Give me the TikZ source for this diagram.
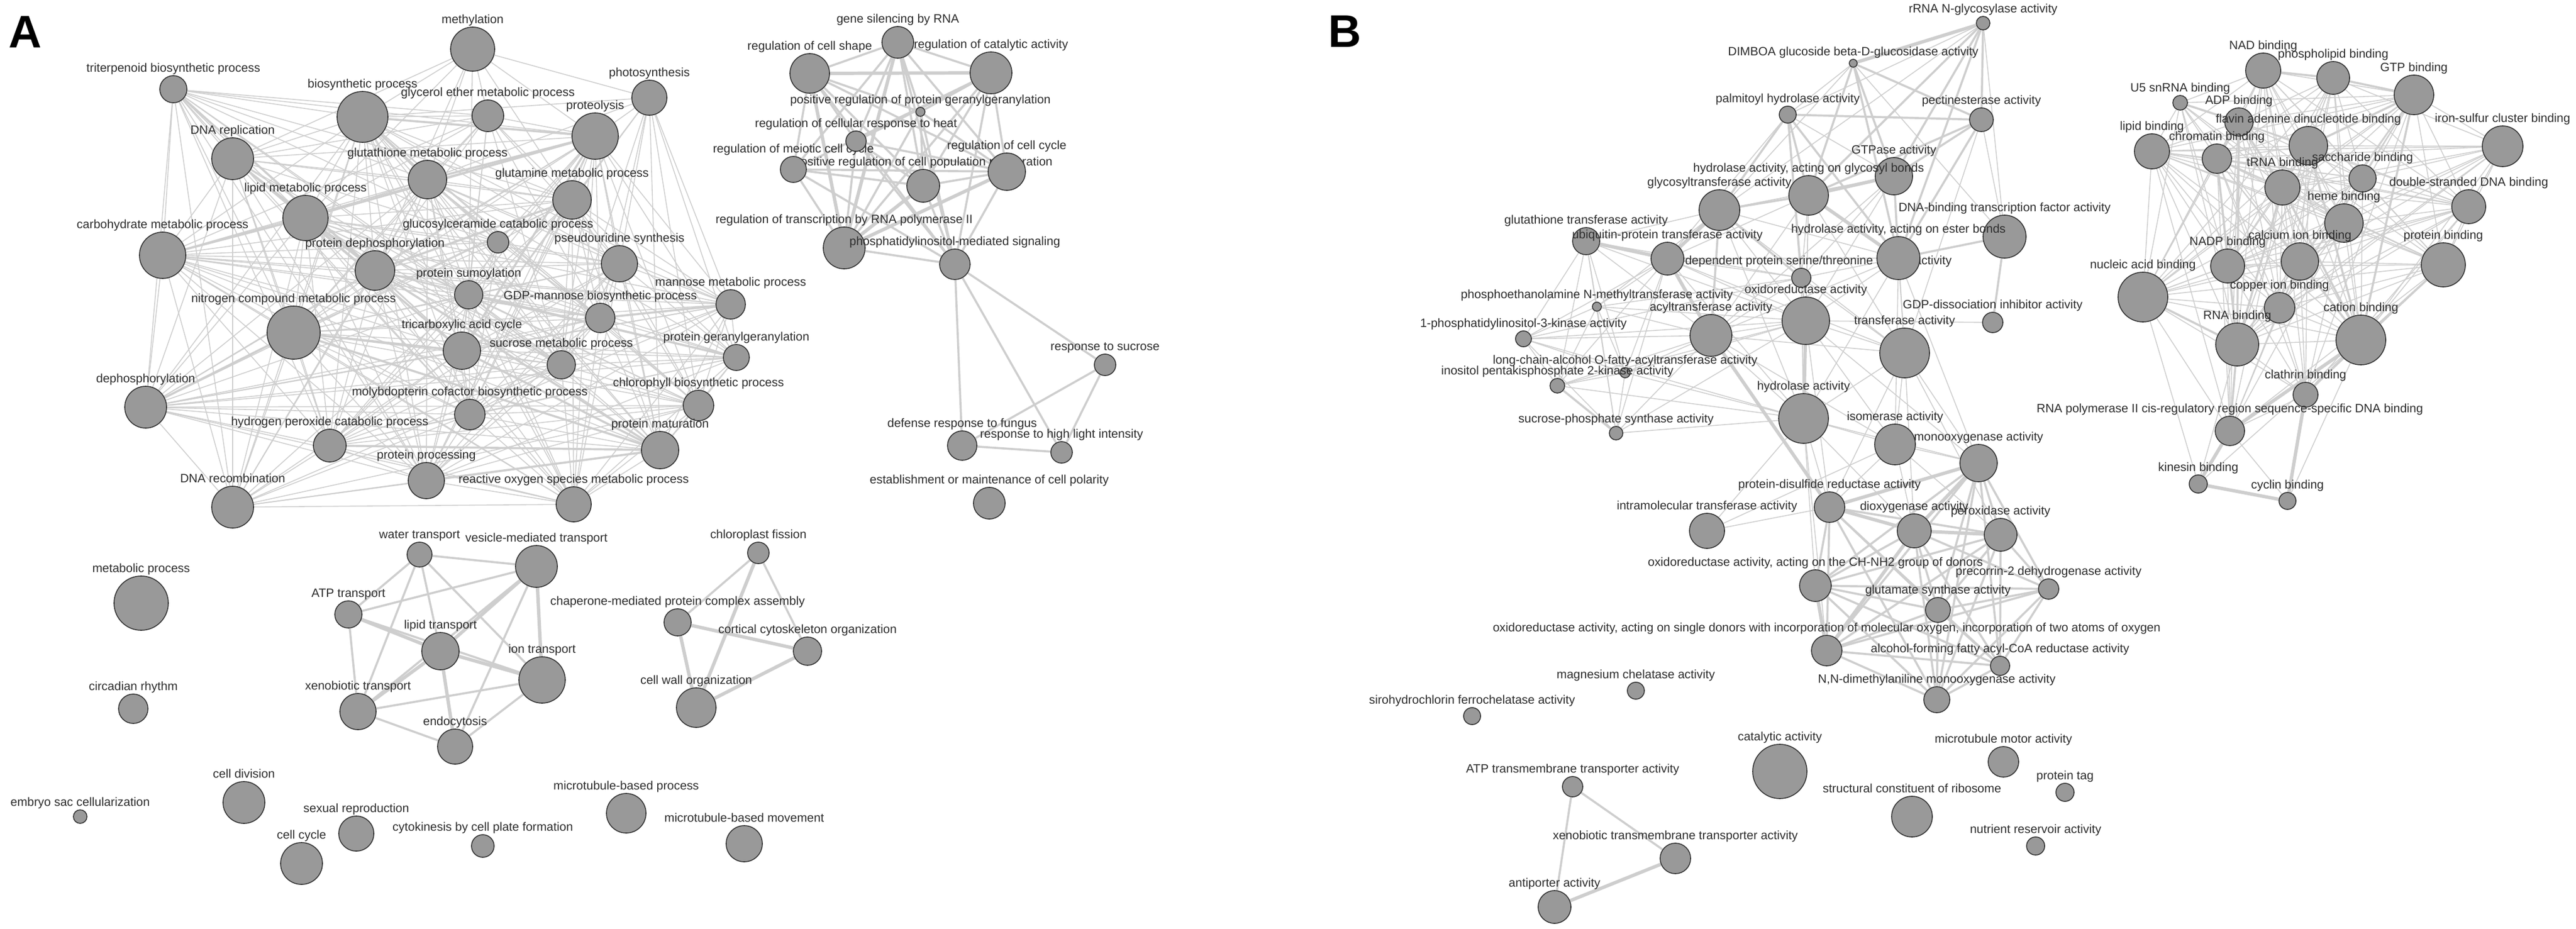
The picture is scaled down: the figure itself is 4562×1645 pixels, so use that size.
\documentclass[tikz,border=0pt]{standalone}
\usepackage{fontspec}
\setmainfont{Liberation Sans}
\usepackage{tikz}
\usetikzlibrary{backgrounds}
\usepackage{xcolor}
\definecolor{nodeFill}{RGB}{153, 153, 153}
\definecolor{nodeLine}{RGB}{50, 50, 50}
\definecolor{edgeGray}{RGB}{206, 206, 206}
\definecolor{labelGray}{RGB}{45, 45, 45}

\begin{document}
\begin{tikzpicture}[
    x=0.01cm, y=-0.01cm,
    term/.style={circle, draw=nodeLine, fill=nodeFill, line width=0.45pt, inner sep=0pt, minimum size=0.02cm*#1},
    lbl/.style={font=\fontsize{6.1}{7.3}\selectfont, text=labelGray, inner sep=0pt, text depth=1.3pt},
    panel/.style={font=\fontsize{23}{26}\selectfont\bfseries, inner sep=0pt},
    med/.style={line width=1.05pt},
    thk/.style={line width=1.7pt},
]
\useasboundingbox (0,0) rectangle (4562,1645);
\node[panel, anchor=base west] (labA) at (15,84) {A};
\node[panel, anchor=base west] (labB) at (2352,83) {B};
\node[term=24, label={[lbl]above:triterpenoid biosynthetic process}] (T) at (307,158) {};
\node[term=45, label={[lbl]above:biosynthetic process}] (BIO) at (642,207) {};
\node[term=39, label={[lbl]above:methylation}] (METH) at (837,87) {};
\node[term=28, label={[lbl]above:glycerol ether metabolic process}] (GLY) at (864,205) {};
\node[term=31, label={[lbl]above:photosynthesis}] (PHOTO) at (1150,173) {};
\node[term=41, label={[lbl]above:proteolysis}] (PROT) at (1054,241) {};
\node[term=37, label={[lbl]above:DNA replication}] (DREP) at (412,281) {};
\node[term=34, label={[lbl]above:glutathione metabolic process}] (GSH) at (757,318) {};
\node[term=34, label={[lbl]above:glutamine metabolic process}] (GLN) at (1013,354) {};
\node[term=40, label={[lbl]above:lipid metabolic process}] (LIP) at (541,386) {};
\node[term=19, label={[lbl]above:glucosylceramide catabolic process}] (GLC) at (882,429) {};
\node[term=41, label={[lbl]above:carbohydrate metabolic process}] (CARB) at (288,452) {};
\node[term=32, label={[lbl]above:pseudouridine synthesis}] (PSU) at (1097,467) {};
\node[term=35, label={[lbl]above:protein dephosphorylation}] (PDEP) at (664,479) {};
\node[term=25, label={[lbl]above:protein sumoylation}] (SUMO) at (830,522) {};
\node[term=26, label={[lbl]above:mannose metabolic process}] (MAN) at (1294,539) {};
\node[term=26, label={[lbl]above:GDP-mannose biosynthetic process}] (GDP) at (1063,563) {};
\node[term=47, label={[lbl]above:nitrogen compound metabolic process}] (NIT) at (520,589) {};
\node[term=33, label={[lbl]above:tricarboxylic acid cycle}] (TCA) at (818,621) {};
\node[term=23, label={[lbl]above:protein geranylgeranylation}] (GER) at (1304,633) {};
\node[term=25, label={[lbl]above:sucrose metabolic process}] (SUC) at (994,646) {};
\node[term=27, label={[lbl]above:chlorophyll biosynthetic process}] (CHL) at (1237,718) {};
\node[term=37, label={[lbl]above:dephosphorylation}] (DEP) at (258,721) {};
\node[term=27, label={[lbl]above:molybdopterin cofactor biosynthetic process}] (MOCO) at (832,734) {};
\node[term=29, label={[lbl]above:hydrogen peroxide catabolic process}] (H2O2) at (584,789) {};
\node[term=33, label={[lbl]above:protein maturation}] (PMAT) at (1169,797) {};
\node[term=32, label={[lbl]above:protein processing}] (PPROC) at (755,851) {};
\node[term=31, label={[lbl]above:reactive oxygen species metabolic process}] (ROS) at (1016,893) {};
\node[term=37, label={[lbl]above:DNA recombination}] (DREC) at (412,898) {};
\node[term=28, label={[lbl]above:gene silencing by RNA}] (GSIL) at (1590,75) {};
\node[term=35, label={[lbl]above:regulation of cell shape}] (RCS) at (1434,130) {};
\node[term=37, label={[lbl]above:regulation of catalytic activity}] (RCAT) at (1755,129) {};
\node[term=8, label={[lbl]above:positive regulation of protein geranylgeranylation}] (PRGG) at (1630,198) {};
\node[term=29, label={[lbl]above:positive regulation of cell population proliferation}] (PRCP) at (1635,329) {};
\node[term=23, label={[lbl]above:regulation of meiotic cell cycle}] (RMEI) at (1405,300) {};
\node[term=18, label={[lbl]above:regulation of cellular response to heat}] (RHEAT) at (1516,250) {};
\node[term=33, label={[lbl]above:regulation of cell cycle}] (RCC) at (1783,304) {};
\node[term=37, label={[lbl]above:regulation of transcription by RNA polymerase II}] (RTX) at (1495,439) {};
\node[term=27, label={[lbl]above:phosphatidylinositol-mediated signaling}] (PIS) at (1691,468) {};
\node[term=19, label={[lbl]above:response to sucrose}] (RSUC) at (1957,646) {};
\node[term=26, label={[lbl]above:defense response to fungus}] (DRF) at (1704,789) {};
\node[term=19, label={[lbl]above:response to high light intensity}] (RHL) at (1880,801) {};
\node[term=28, label={[lbl]above:establishment or maintenance of cell polarity}] (ECP) at (1752,891) {};
\node[term=22, label={[lbl]above:water transport}] (WAT) at (743,982) {};
\node[term=37, label={[lbl]above:vesicle-mediated transport}] (VES) at (950,1003) {};
\node[term=24, label={[lbl]above:ATP transport}] (ATP) at (617,1088) {};
\node[term=33, label={[lbl]above:lipid transport}] (LTR) at (780,1153) {};
\node[term=41, label={[lbl]above:ion transport}] (ION) at (960,1204) {};
\node[term=32, label={[lbl]above:xenobiotic transport}] (XEN) at (634,1260) {};
\node[term=31, label={[lbl]above:endocytosis}] (ENDO) at (806,1322) {};
\node[term=19, label={[lbl]above:chloroplast fission}] (CHF) at (1343,979) {};
\node[term=24, label={[lbl]above:chaperone-mediated protein complex assembly}] (CHAP) at (1200,1102) {};
\node[term=25, label={[lbl]above:cortical cytoskeleton organization}] (CCO) at (1430,1153) {};
\node[term=35, label={[lbl]above:cell wall organization}] (CWO) at (1233,1253) {};
\node[term=48, label={[lbl]above:metabolic process}] (MET) at (250,1068) {};
\node[term=26, label={[lbl]above:circadian rhythm}] (CIRC) at (236,1255) {};
\node[term=12, label={[lbl]above:embryo sac cellularization}] (EMB) at (142,1446) {};
\node[term=37, label={[lbl]above:cell division}] (CDIV) at (432,1421) {};
\node[term=31, label={[lbl]above:sexual reproduction}] (SEX) at (631,1476) {};
\node[term=37, label={[lbl]above:cell cycle}] (CCYC) at (534,1529) {};
\node[term=20, label={[lbl]above:cytokinesis by cell plate formation}] (CYTK) at (855,1498) {};
\node[term=35, label={[lbl]above:microtubule-based process}] (MTP) at (1109,1440) {};
\node[term=32, label={[lbl]above:microtubule-based movement}] (MTM) at (1318,1494) {};
\node[term=12, label={[lbl]above:rRNA N-glycosylase activity}] (RRNA) at (3512,41) {};
\node[term=7, label={[lbl]above:DIMBOA glucoside beta-D-glucosidase activity}] (DIMB) at (3282,112) {};
\node[term=15, label={[lbl]above:palmitoyl hydrolase activity}] (PALM) at (3166,203) {};
\node[term=21, label={[lbl]above:pectinesterase activity}] (PECT) at (3509,212) {};
\node[term=33, label={[lbl]above:GTPase activity}] (GTPA) at (3354,312) {};
\node[term=35, label={[lbl]above:{hydrolase activity, acting on glycosyl bonds}}] (HGLY) at (3203,346) {};
\node[term=36, label={[lbl]above:glycosyltransferase activity}] (GLYT) at (3045,372) {};
\node[term=38, label={[lbl]above:DNA-binding transcription factor activity}] (DBTF) at (3550,419) {};
\node[term=24, label={[lbl]above:glutathione transferase activity}] (GSTA) at (2809,427) {};
\node[term=17, label={[lbl]above:cyclin-dependent protein serine/threonine kinase activity}] (CDK) at (3190,492) {};
\node[term=29, label={[lbl]above:ubiquitin-protein transferase activity}] (UBQ) at (2953,458) {};
\node[term=38, label={[lbl]above:{hydrolase activity, acting on ester bonds}}] (HEST) at (3362,457) {};
\node[term=8, label={[lbl]above:phosphoethanolamine N-methyltransferase activity}] (PEMT) at (2828,543) {};
\node[term=42, label={[lbl]above:oxidoreductase activity}] (OXR) at (3198,568) {};
\node[term=18, label={[lbl]above:GDP-dissociation inhibitor activity}] (GDI) at (3529,571) {};
\node[term=37, label={[lbl]above:acyltransferase activity}] (ACYL) at (3030,594) {};
\node[term=14, label={[lbl]above:1-phosphatidylinositol-3-kinase activity}] (PI3K) at (2698,600) {};
\node[term=44, label={[lbl]above:transferase activity}] (TRAN) at (3373,625) {};
\node[term=9, label={[lbl]above:long-chain-alcohol O-fatty-acyltransferase activity}] (LCA) at (2878,660) {};
\node[term=13, label={[lbl]above:inositol pentakisphosphate 2-kinase activity}] (IPK) at (2758,683) {};
\node[term=44, label={[lbl]above:hydrolase activity}] (HYD) at (3194,741) {};
\node[term=12, label={[lbl]above:sucrose-phosphate synthase activity}] (SPS) at (2862,767) {};
\node[term=36, label={[lbl]above:isomerase activity}] (ISO) at (3356,787) {};
\node[term=33, label={[lbl]above:monooxygenase activity}] (MONO) at (3504,820) {};
\node[term=27, label={[lbl]above:protein-disulfide reductase activity}] (PDI) at (3240,898) {};
\node[term=31, label={[lbl]above:intramolecular transferase activity}] (INTRA) at (3023,940) {};
\node[term=30, label={[lbl]above:dioxygenase activity}] (DIOX) at (3390,940) {};
\node[term=29, label={[lbl]above:peroxidase activity}] (PEROX) at (3543,947) {};
\node[term=28, label={[lbl]above:{oxidoreductase activity, acting on the CH-NH2 group of donors}}] (OXCH) at (3215,1037) {};
\node[term=18, label={[lbl]above:precorrin-2 dehydrogenase activity}] (PREC) at (3628,1043) {};
\node[term=22, label={[lbl]above:glutamate synthase activity}] (GLUS) at (3432,1080) {};
\node[term=27, label={[lbl]above:{oxidoreductase activity, acting on single donors with incorporation of molecular oxygen, incorporation of two atoms of oxygen}}] (OXSD) at (3235,1152) {};
\node[term=17, label={[lbl]above:alcohol-forming fatty acyl-CoA reductase activity}] (ALC) at (3542,1179) {};
\node[term=23, label={[lbl]above:{N,N-dimethylaniline monooxygenase activity}}] (NNDM) at (3430,1239) {};
\node[term=15, label={[lbl]above:magnesium chelatase activity}] (MGCH) at (2897,1223) {};
\node[term=15, label={[lbl]above:sirohydrochlorin ferrochelatase activity}] (SIRO) at (2607,1268) {};
\node[term=48, label={[lbl]above:catalytic activity}] (CATA) at (3152,1366) {};
\node[term=36, label={[lbl]above:structural constituent of ribosome}] (SCR) at (3386,1446) {};
\node[term=27, label={[lbl]above:microtubule motor activity}] (MTMA) at (3548,1349) {};
\node[term=16, label={[lbl]above:protein tag}] (PTAG) at (3657,1403) {};
\node[term=16, label={[lbl]above:nutrient reservoir activity}] (NRA) at (3605,1498) {};
\node[term=18, label={[lbl]above:ATP transmembrane transporter activity}] (ATPT) at (2785,1393) {};
\node[term=27, label={[lbl]above:xenobiotic transmembrane transporter activity}] (XTT) at (2967,1520) {};
\node[term=29, label={[lbl]above:antiporter activity}] (ANTI) at (2753,1606) {};
\node[term=31, label={[lbl]above:NAD binding}] (NADB) at (4008,125) {};
\node[term=29, label={[lbl]above:phospholipid binding}] (PLB) at (4132,138) {};
\node[term=35, label={[lbl]above:GTP binding}] (GTPB) at (4275,168) {};
\node[term=13, label={[lbl]above:U5 snRNA binding}] (U5) at (3861,182) {};
\node[term=25, label={[lbl]above:ADP binding}] (ADP) at (3965,216) {};
\node[term=31, label={[lbl]above:lipid binding}] (LIPB) at (3811,268) {};
\node[term=26, label={[lbl]above:chromatin binding}] (CHROM) at (3926,281) {};
\node[term=34, label={[lbl]above:flavin adenine dinucleotide binding}] (FAD) at (4088,258) {};
\node[term=36, label={[lbl]above:iron-sulfur cluster binding}] (IRON) at (4432,259) {};
\node[term=31, label={[lbl]above:tRNA binding}] (TRNA) at (4042,332) {};
\node[term=24, label={[lbl]above:saccharide binding}] (SACB) at (4184,316) {};
\node[term=30, label={[lbl]above:double-stranded DNA binding}] (DSDNA) at (4372,366) {};
\node[term=34, label={[lbl]above:heme binding}] (HEME) at (4151,395) {};
\node[term=30, label={[lbl]above:NADP binding}] (NADP) at (3945,471) {};
\node[term=33, label={[lbl]above:calcium ion binding}] (CAIB) at (4073,463) {};
\node[term=39, label={[lbl]above:protein binding}] (PROB) at (4327,469) {};
\node[term=44, label={[lbl]above:nucleic acid binding}] (NUC) at (3795,526) {};
\node[term=27, label={[lbl]above:copper ion binding}] (CUB) at (4037,545) {};
\node[term=38, label={[lbl]above:RNA binding}] (RNAB) at (3962,610) {};
\node[term=44, label={[lbl]above:cation binding}] (CATB) at (4181,602) {};
\node[term=22, label={[lbl]above:clathrin binding}] (CLAT) at (4083,699) {};
\node[term=26, label={[lbl]above:RNA polymerase II cis-regulatory region sequence-specific DNA binding}] (RPOL) at (3949,763) {};
\node[term=16, label={[lbl]above:kinesin binding}] (KIN) at (3893,857) {};
\node[term=15, label={[lbl]above:cyclin binding}] (CYC) at (4051,887) {};
\begin{scope}[on background layer, every edge/.style={draw=edgeGray, line width=0.45pt}]
\fill[white] (0,0) rectangle (4562,1645);
\path (T) edge (BIO) edge (DREP) edge (GSH) edge (LIP) edge[med] (PDEP) edge (NIT) edge (GLN) edge (PROT) edge (SUMO) edge (TCA) edge (CARB) edge (DEP) edge (DREC) edge (GLC) edge (MOCO) edge (H2O2) edge (PPROC) edge (GLY) edge (SUC);
\path (BIO) edge (METH) edge (GLY) edge[med] (PROT) edge (DREP) edge[med] (GSH) edge (GLN) edge (LIP) edge (GLC) edge (CARB) edge (PSU) edge (PDEP) edge (SUMO) edge (NIT) edge (TCA) edge (SUC) edge (DEP) edge (MOCO) edge (H2O2) edge (PPROC) edge (ROS) edge (PMAT) edge (CHL) edge (GDP) edge (DREC) edge (MAN);
\path (METH) edge (GLY) edge (GSH) edge (PROT) edge (PHOTO) edge (DREP) edge (LIP) edge (PDEP) edge (SUMO) edge (GLN);
\path (GLY) edge (PROT) edge (GSH) edge (GLN) edge (DREP) edge (LIP) edge (PDEP) edge (NIT) edge (SUMO) edge (TCA) edge (PSU) edge (GDP) edge (SUC) edge (CARB);
\path (PHOTO) edge (PROT) edge (GLN) edge (PSU) edge (MAN) edge (GER) edge (CHL) edge (GDP) edge (GSH) edge (BIO) edge (TCA) edge (SUC) edge (PMAT);
\path (PROT) edge[med] (GSH) edge (GLN) edge (DREP) edge[med] (LIP) edge (PSU) edge (PDEP) edge (NIT) edge (SUMO) edge (GDP) edge[med] (TCA) edge (SUC) edge (MAN) edge (GER) edge (CHL) edge (MOCO) edge (PMAT) edge (CARB) edge (DEP) edge (H2O2) edge (GLC) edge (PPROC) edge (ROS);
\path (DREP) edge (GSH) edge (LIP) edge (CARB) edge (NIT) edge[med] (PDEP) edge (DEP) edge (DREC) edge (TCA) edge (SUMO) edge (GLN) edge (H2O2) edge (MOCO) edge (PPROC) edge (SUC) edge (GLC);
\path (GSH) edge (GLN) edge (LIP) edge (GLC) edge (PDEP) edge (SUMO) edge (NIT) edge (TCA) edge (SUC) edge (PSU) edge (GDP) edge (MAN) edge (CARB) edge (DEP) edge (MOCO) edge (H2O2) edge (PPROC) edge (ROS) edge (PMAT) edge (CHL) edge (GER) edge (DREC);
\path (GLN) edge (GLC) edge (PSU) edge[med] (PDEP) edge (SUMO) edge (MAN) edge (GDP) edge (TCA) edge (SUC) edge (GER) edge (CHL) edge (LIP) edge (NIT) edge (MOCO) edge (PMAT) edge (ROS) edge (PPROC) edge (H2O2) edge (DEP) edge (CARB);
\path (LIP) edge[med] (CARB) edge (PDEP) edge (NIT) edge (SUMO) edge[med] (TCA) edge (DEP) edge (DREC) edge (H2O2) edge (MOCO) edge (PPROC) edge (GLC) edge (PSU) edge (GDP) edge (SUC) edge (MAN) edge (GER) edge (CHL) edge (PMAT) edge (ROS);
\path (GLC) edge (PDEP) edge (SUMO) edge (TCA) edge (NIT) edge (GDP) edge (SUC) edge (PSU) edge (MOCO) edge (CARB);
\path (CARB) edge (PDEP) edge (NIT) edge (DEP) edge (DREC) edge (TCA) edge (SUMO) edge (H2O2) edge (MOCO) edge (PPROC) edge (SUC) edge (GDP) edge (PSU) edge (MAN) edge (ROS) edge (PMAT);
\path (PSU) edge (PDEP) edge (SUMO) edge (MAN) edge (GDP) edge (TCA) edge (SUC) edge (GER) edge (CHL) edge (NIT) edge (MOCO) edge (PMAT) edge (ROS) edge (PPROC) edge (H2O2);
\path (PDEP) edge (SUMO) edge (NIT) edge (TCA) edge (SUC) edge (GDP) edge (MAN) edge (GER) edge (CHL) edge (DEP) edge (MOCO) edge (H2O2) edge[med] (PMAT) edge (PPROC) edge (ROS) edge (DREC);
\path (SUMO) edge (NIT) edge (TCA) edge (GDP) edge (SUC) edge (MAN) edge[med] (GER) edge (CHL) edge (DEP) edge (MOCO) edge (H2O2) edge (PMAT) edge (PPROC) edge (ROS) edge (DREC);
\path (MAN) edge[med] (GDP) edge (GER) edge (CHL) edge (SUC) edge (TCA) edge (NIT) edge (PMAT) edge (MOCO) edge (ROS) edge (PPROC) edge (DEP);
\path (GDP) edge (TCA) edge (SUC) edge (GER) edge (CHL) edge (NIT) edge (MOCO) edge (PMAT) edge (PPROC) edge (ROS) edge (H2O2) edge (DEP);
\path (NIT) edge[med] (TCA) edge (SUC) edge (GER) edge (CHL) edge[med] (DEP) edge (MOCO) edge (H2O2) edge[med] (PMAT) edge (PPROC) edge (ROS) edge (DREC);
\path (TCA) edge (SUC) edge (GER) edge (CHL) edge (DEP) edge (MOCO) edge (H2O2) edge[med] (PMAT) edge (PPROC) edge (ROS) edge (DREC);
\path (GER) edge (SUC) edge (CHL) edge (MOCO) edge (PMAT) edge (ROS) edge (PPROC) edge (H2O2) edge (DEP);
\path (SUC) edge (CHL) edge (DEP) edge (MOCO) edge (H2O2) edge (PMAT) edge (PPROC) edge (ROS) edge (DREC);
\path (CHL) edge (DEP) edge (MOCO) edge (H2O2) edge (PMAT) edge (PPROC) edge (ROS) edge (DREC);
\path (DEP) edge (MOCO) edge (H2O2) edge (PMAT) edge (PPROC) edge (ROS) edge (DREC);
\path (MOCO) edge (H2O2) edge (PMAT) edge (PPROC) edge (ROS) edge (DREC);
\path (H2O2) edge[med] (PMAT) edge (PPROC) edge (ROS) edge (DREC);
\path (PMAT) edge[med] (PPROC) edge (ROS) edge (DREC);
\path (PPROC) edge (ROS) edge (DREC); \path (ROS) edge (DREC);
\path (RCS) edge[med] (GSIL) edge[thk] (RCAT) edge[med] (RMEI) edge[thk] (RTX) edge[med] (PRCP) edge[med] (RCC) edge[med] (PIS) edge[med] (RHEAT) edge[med] (PRGG);
\path (GSIL) edge[med] (RCAT) edge[thk] (RTX) edge[med] (PRCP) edge[med] (PIS) edge[med] (RMEI) edge[med] (RHEAT) edge[med] (RCC) edge[med] (PRGG);
\path (RCAT) edge[med] (RCC) edge[med] (PRCP) edge[med] (RTX) edge[med] (PIS) edge[med] (RMEI) edge[med] (RHEAT) edge[med] (PRGG);
\path (RMEI) edge[med] (RCC) edge[med] (PRCP) edge[med] (RTX) edge[med] (PIS);
\path (PRCP) edge[med] (RCC) edge[thk] (RTX) edge[med] (PIS); \path (RCC) edge[thk] (RTX) edge[med] (PIS); \path (RTX) edge[med] (PIS);
\path (RHEAT) edge[med] (RTX) edge[med] (RCC) edge[med] (PRCP) edge[med] (PIS);
\path (PRGG) edge[med] (RTX) edge[med] (PRCP) edge[med] (RCC) edge[med] (PIS);
\path (PIS) edge[med] (RSUC) edge[med] (DRF) edge[med] (RHL);
\path (RSUC) edge[med] (DRF) edge[med] (RHL); \path (DRF) edge[med] (RHL);
\path (WAT) edge[med] (VES) edge[med] (LTR) edge[med] (ION) edge[med] (ATP) edge[med] (XEN);
\path (VES) edge[thk] (LTR) edge[thk] (ION) edge[med] (ENDO) edge[med] (ATP) edge[med] (XEN);
\path (LTR) edge[thk] (ION) edge[thk] (ENDO) edge[thk] (XEN) edge[thk] (ATP);
\path (ION) edge[med] (XEN) edge[med] (ENDO) edge[med] (ATP); \path (ATP) edge[med] (XEN); \path (XEN) edge[med] (ENDO);
\path (CHF) edge[med] (CHAP) edge[thk] (CWO) edge[med] (CCO);
\path (CHAP) edge[thk] (CCO) edge[thk] (CWO); \path (CWO) edge[thk] (CCO);
\path (RRNA) edge[thk] (DIMB) edge[med] (PECT) edge (PALM) edge[med] (GTPA) edge[med] (HGLY) edge[med] (HEST) edge (DBTF) edge (GLYT);
\path (DIMB) edge (PALM) edge[med] (PECT) edge[med] (GTPA) edge[med] (HGLY) edge[med] (HEST) edge (GLYT) edge (DBTF);
\path (PALM) edge[med] (PECT) edge (GTPA) edge[med] (HGLY) edge[med] (GLYT) edge[med] (HEST) edge[med] (CDK) edge (OXR) edge (UBQ);
\path (PECT) edge[med] (GTPA) edge[med] (HGLY) edge[med] (HEST) edge (DBTF) edge (TRAN);
\path (GTPA) edge[thk] (HGLY) edge[med] (HEST) edge (GLYT) edge (TRAN) edge (CDK) edge (OXR) edge (ACYL);
\path (HGLY) edge[med] (GLYT) edge[thk] (HEST) edge (CDK) edge (OXR) edge (UBQ) edge (ACYL) edge (TRAN) edge (HYD);
\path (GLYT) edge[thk] (UBQ) edge[med] (CDK) edge[med] (ACYL) edge (OXR) edge (HEST) edge (GSTA) edge (PEMT) edge (TRAN) edge (HYD);
\path (DBTF) edge[med] (HEST) edge[med] (GDI);
\path (GSTA) edge[thk] (UBQ) edge (PI3K) edge (IPK) edge (SPS) edge (LCA) edge (ACYL) edge (PEMT) edge (CDK) edge (OXR);
\path (HEST) edge (CDK) edge (OXR) edge (TRAN) edge (HYD) edge (ISO) edge (ACYL) edge (UBQ) edge (MONO);
\path (UBQ) edge (CDK) edge[thk] (ACYL) edge (OXR) edge (PI3K) edge (IPK) edge (LCA) edge (SPS) edge (PEMT) edge (HYD) edge (TRAN);
\path (CDK) edge (OXR) edge (ACYL) edge (TRAN) edge (HYD) edge (PEMT) edge (PI3K);
\path (PEMT) edge (PI3K) edge (IPK) edge (LCA) edge (ACYL) edge (SPS) edge (OXR);
\path (OXR) edge (GDI) edge (ACYL) edge (TRAN) edge[thk] (HYD) edge (ISO) edge (PDI) edge (MONO) edge (PI3K) edge (IPK) edge (LCA) edge (SPS);
\path (ACYL) edge (PI3K) edge (TRAN) edge (HYD) edge (IPK) edge (LCA) edge (SPS) edge[thk] (PDI) edge (ISO);
\path (PI3K) edge (IPK) edge (LCA) edge (SPS) edge (HYD); \path (LCA) edge (IPK) edge (SPS) edge (HYD); \path (IPK) edge[med] (SPS) edge (HYD);
\path (TRAN) edge (HYD) edge (ISO) edge (MONO) edge (PDI) edge (DIOX) edge (PEROX);
\path (HYD) edge (SPS) edge (ISO) edge (PDI) edge (DIOX) edge (OXCH) edge (INTRA) edge (MONO) edge (OXSD);
\path (ISO) edge (MONO) edge (PDI) edge (DIOX) edge (PEROX) edge (INTRA);
\path (MONO) edge[thk] (PDI) edge[thk] (DIOX) edge[med] (PEROX) edge[med] (OXCH) edge[med] (GLUS) edge[med] (OXSD) edge[med] (ALC) edge[med] (NNDM) edge[med] (PREC);
\path (PDI) edge[thk] (DIOX) edge[med] (PEROX) edge[med] (OXCH) edge[med] (GLUS) edge[med] (OXSD) edge[med] (NNDM) edge[med] (ALC) edge (INTRA);
\path (DIOX) edge[thk] (PEROX) edge[med] (OXCH) edge[med] (PREC) edge[med] (GLUS) edge[thk] (OXSD) edge[med] (ALC) edge[med] (NNDM);
\path (PEROX) edge[med] (OXCH) edge[med] (PREC) edge[med] (GLUS) edge[med] (OXSD) edge[med] (ALC) edge[med] (NNDM);
\path (OXCH) edge[med] (PREC) edge[med] (GLUS) edge[thk] (OXSD) edge[med] (ALC) edge[med] (NNDM);
\path (PREC) edge[med] (GLUS) edge[med] (OXSD) edge[med] (ALC) edge[med] (NNDM);
\path (GLUS) edge[med] (OXSD) edge[med] (ALC) edge[med] (NNDM); \path (OXSD) edge[med] (ALC) edge[med] (NNDM); \path (ALC) edge[med] (NNDM);
\path (ATPT) edge[med] (XTT) edge[med] (ANTI); \path (XTT) edge[thk] (ANTI);
\path (NADB) edge[med] (PLB) edge (GTPB) edge (U5) edge (ADP) edge (FAD) edge (LIPB) edge (CHROM) edge (SACB) edge (TRNA) edge (HEME) edge (CAIB) edge (NADP) edge (NUC) edge (CUB) edge (CATB) edge (RNAB) edge (DSDNA) edge (PROB);
\path (PLB) edge[med] (GTPB) edge (ADP) edge (FAD) edge (CHROM) edge (SACB) edge (TRNA) edge (HEME) edge (CAIB) edge (NADP) edge (CUB) edge (CATB) edge (RNAB) edge (IRON) edge (DSDNA) edge (NUC);
\path (GTPB) edge (U5) edge (ADP) edge[med] (FAD) edge (IRON) edge (LIPB) edge (CHROM) edge (SACB) edge (TRNA) edge (DSDNA) edge (HEME) edge (CAIB) edge (PROB) edge (NADP) edge (NUC) edge (CUB) edge[med] (CATB) edge (RNAB) edge (CLAT);
\path (U5) edge[med] (ADP) edge (FAD) edge (LIPB) edge (CHROM) edge (TRNA) edge (HEME) edge (NADP) edge (NUC) edge (RNAB) edge (CAIB);
\path (ADP) edge (FAD) edge (LIPB) edge (CHROM) edge (SACB) edge[med] (TRNA) edge (HEME) edge (CAIB) edge (NADP) edge (NUC) edge (CUB) edge (CATB) edge[med] (RNAB) edge (DSDNA) edge (PROB) edge (RPOL);
\path (FAD) edge (IRON) edge (LIPB) edge (CHROM) edge (SACB) edge (TRNA) edge (DSDNA) edge (HEME) edge (CAIB) edge (PROB) edge (NADP) edge (NUC) edge (CUB) edge[med] (CATB) edge (RNAB) edge (CLAT);
\path (IRON) edge (SACB) edge (TRNA) edge (DSDNA) edge (HEME) edge (CAIB) edge (PROB) edge (CATB) edge (CHROM) edge (LIPB) edge (NADP) edge (CUB) edge (RNAB);
\path (LIPB) edge (CHROM) edge (TRNA) edge (HEME) edge (CAIB) edge (NADP) edge (NUC) edge (CUB) edge (RNAB) edge (CATB) edge (SACB) edge (DSDNA) edge (PROB) edge (RPOL);
\path (CHROM) edge (SACB) edge (TRNA) edge (HEME) edge (CAIB) edge (NADP) edge (NUC) edge (CUB) edge[med] (RNAB) edge (CATB) edge (DSDNA) edge (PROB) edge (RPOL) edge (CLAT);
\path (SACB) edge (TRNA) edge (DSDNA) edge (HEME) edge (CAIB) edge (PROB) edge (NADP) edge (CUB) edge (CATB) edge (RNAB) edge (NUC);
\path (TRNA) edge (DSDNA) edge (HEME) edge (CAIB) edge (PROB) edge (NADP) edge (NUC) edge (CUB) edge[med] (CATB) edge[med] (RNAB) edge (CLAT) edge (RPOL);
\path (DSDNA) edge (HEME) edge (CAIB) edge (PROB) edge (NADP) edge (NUC) edge (CUB) edge (CATB) edge (RNAB) edge (CLAT);
\path (HEME) edge (CAIB) edge (PROB) edge (NADP) edge (NUC) edge (CUB) edge (CATB) edge (RNAB) edge (CLAT) edge (RPOL);
\path (CAIB) edge (PROB) edge (NADP) edge (NUC) edge (CUB) edge[med] (CATB) edge (RNAB) edge (CLAT) edge (RPOL);
\path (PROB) edge (NADP) edge (NUC) edge (CUB) edge[med] (CATB) edge (RNAB) edge (CLAT) edge (RPOL);
\path (NADP) edge (NUC) edge (CUB) edge (CATB) edge (RNAB) edge (CLAT) edge (RPOL);
\path (NUC) edge (CUB) edge (CATB) edge[med] (RNAB) edge (CLAT) edge (RPOL) edge (KIN);
\path (CUB) edge (CATB) edge (RNAB) edge (CLAT) edge (RPOL);
\path (CATB) edge (RNAB) edge[med] (CLAT) edge[thk] (RPOL) edge (CYC) edge (KIN);
\path (RNAB) edge (CLAT) edge[med] (RPOL) edge (KIN); \path (CLAT) edge (RPOL) edge[thk] (CYC);
\path (RPOL) edge[thk] (KIN) edge (CYC); \path (KIN) edge[thk] (CYC);
\end{scope}
\end{tikzpicture}
\end{document}
